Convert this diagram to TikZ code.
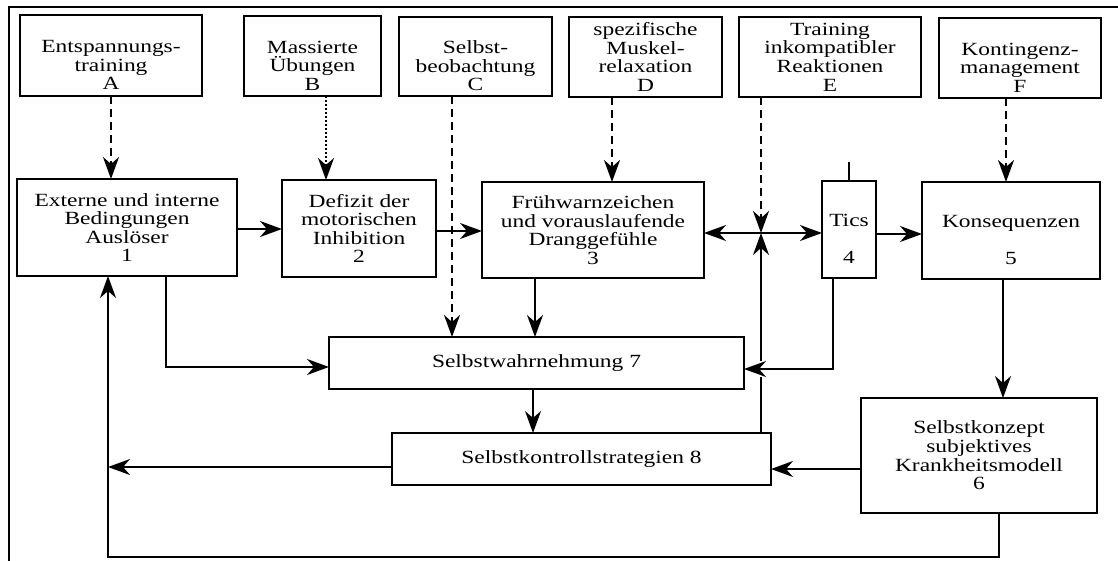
\documentclass[tikz,border=0pt]{standalone}
\usepackage{fontspec}
\setmainfont[FakeStretch=1.26]{Liberation Serif}
\usetikzlibrary{arrows.meta}
\begin{document}
\begin{tikzpicture}[x=.5pt, y=-.5pt,
	box/.style={draw, line width=.9pt, align=center, inner sep=0pt, outer sep=0pt,
		font=\fontsize{9.3pt}{9.3pt}\selectfont},
	conn/.style={line width=.8pt},
	hint/.style={line width=1pt, dash pattern=on 4pt off 2.5pt},
	dots/.style={line width=1pt, densely dotted},
	bridge/.style={preaction={draw=white, line width=8pt, -, shorten <=4pt, shorten >=3pt}},
	>={Stealth[length=11pt, width=8pt, inset=3.5pt]}]
	\useasboundingbox (0,0) rectangle (1118,561);
	\draw[line width=.9pt] (9,561) -- (9,7) -- (1118,7);

	% methods
	\node[box, minimum width=91pt, minimum height=40.5pt] (A) at (111,55.5) {\strut\\Entspannungs-\\training\\A};
	\node[box, minimum width=68.5pt, minimum height=40pt] (B) at (312.5,56) {\strut\\Massierte\\Übungen\\B};
	\node[box, minimum width=76.5pt, minimum height=39.5pt] (C) at (475.5,56.5) {\strut\\Selbst-\\beobachtung\\C};
	\node[box, minimum width=76.5pt, minimum height=40pt] (D) at (645.5,57) {spezifische\\Muskel-\\relaxation\\D};
	\node[box, minimum width=91pt, minimum height=40pt] (E) at (830,57) {Training\\inkompatibler\\Reaktionen\\E};
	\node[box, minimum width=81pt, minimum height=40pt] (F) at (1020,58) {\strut\\Kontingenz-\\management\\F};

	% model
	\node[box, minimum width=110pt, minimum height=48.5pt] (n1) at (127,227.5) {Externe und interne\\Bedingungen\\Auslöser\\1};
	\node[box, minimum width=77pt, minimum height=48.5pt] (n2) at (359,228.5) {Defizit der\\motorischen\\Inhibition\\2};
	\node[box, minimum width=111pt, minimum height=48pt] (n3) at (593,230) {Frühwarnzeichen\\und vorauslaufende\\Dranggefühle\\3};
	\node[box, minimum width=27pt, minimum height=48.5pt] (n4) at (849,229.5) {\strut\\Tics\\\strut\\4};
	\node[box, minimum width=89pt, minimum height=48.5pt] (n5) at (1011,230.5) {\strut\\Konsequenzen\\\strut\\5};
	\node[box, minimum width=118pt, minimum height=57.5pt] (n6) at (979,455.5) {Selbstkonzept\\subjektives\\Krankheitsmodell\\6};
	\node[box, line width=.7pt, minimum width=207.5pt, minimum height=26pt] (n7) at (536.5,363) {Selbstwahrnehmung 7};
	\node[box, line width=.7pt, minimum width=189.5pt, minimum height=26pt] (n8) at (581.5,459) {Selbstkontrollstrategien 8};

	\coordinate (J)    at (761,233);
	\coordinate (tick) at (849,162);
	\coordinate (fbr)  at (999,557);
	\coordinate (fbl)  at (108,557);

	% interventions
	\draw[hint,->] (A.south) -- (A.south |- n1.north);
	\draw[dots,->] ([xshift=6.75pt]B.south) -- ([xshift=6.75pt]B.south |- n2.north);
	\draw[hint,->] ([xshift=-11.75pt]C.south) -- ([xshift=-11.75pt]C.south |- n7.north);
	\draw[hint,->] ([xshift=-16.75pt]D.south) -- ([xshift=-16.75pt]D.south |- n3.north);
	\draw[hint,->] (E.south -| J) -- (J);
	\draw[hint,->] ([xshift=-7pt]F.south) -- ([xshift=-7pt]F.south |- n5.north);

	% chain
	\draw[conn,->] ([yshift=-.75pt]n1.east) -- ([yshift=-.75pt]n1.east -| n2.west);
	\draw[conn,->] ([yshift=-1.25pt]n2.east) -- ([yshift=-1.25pt]n2.east -| n3.west);
	\draw[conn,<->] (n3.east |- J) -- (n4.west |- J);
	\draw[conn,->] ([yshift=-2.25pt]n4.east) -- ([yshift=-2.25pt]n4.east -| n5.west);
	\draw[conn] (n4.north) -- (tick);
	\draw[conn,->] ([xshift=-4pt]n5.south) -- ([xshift=-4pt]n5.south |- n6.north);
	\draw[conn,->] ([xshift=19.5pt]n1.south) |- ([yshift=-2pt]n7.west);
	\draw[conn,->] ([xshift=-29pt]n3.south) -- ([xshift=-29pt]n3.south |- n7.north);
	\draw[conn,->] ([xshift=-1.75pt]n7.south) -- ([xshift=-1.75pt]n7.south |- n8.north);
	\draw[conn,->] (n8.north -| J) -- (J);
	\draw[conn,->,bridge] ([xshift=-8pt]n4.south) |- ([yshift=-3pt]n7.east);
	\draw[conn,->] ([yshift=-6.75pt]n6.west) -- ([yshift=-6.75pt]n6.west -| n8.east);
	\draw[conn,->] ([yshift=-4pt]n8.west) -- ([yshift=-4pt]n8.west -| fbl);
	\draw[conn,->] (fbr |- n6.south) -- (fbr) -- (fbl) -- (fbl |- n1.south);
\end{tikzpicture}
\end{document}
